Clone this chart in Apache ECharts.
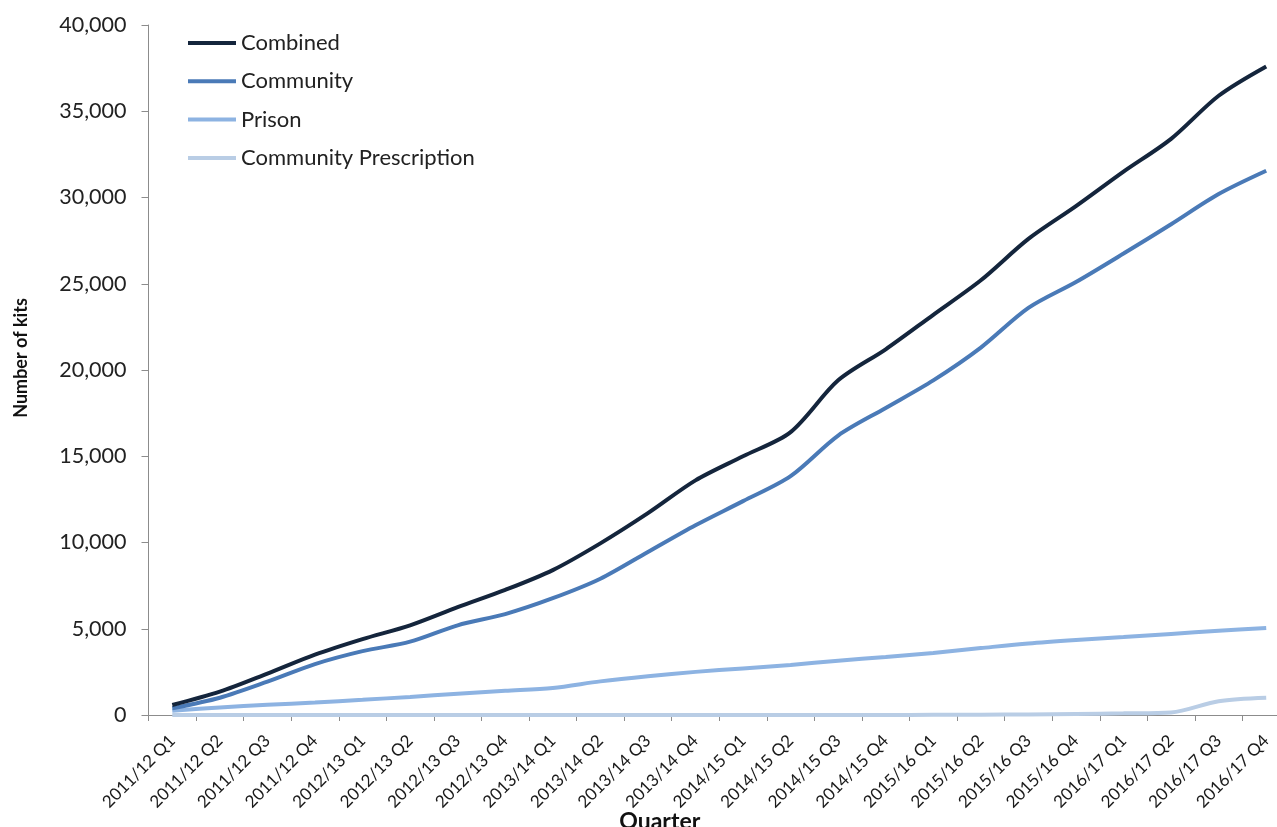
<!DOCTYPE html>
<html>
<head>
<meta charset="utf-8">
<script src="https://cdn.jsdelivr.net/npm/echarts@6/dist/echarts.min.js"></script>
<style>
html,body{margin:0;padding:0;background:#fff;}
#chart{width:1277px;height:827px;}
</style>
</head>
<body>
<div id="chart"></div>
<script>
const categories = ['2011/12 Q1','2011/12 Q2','2011/12 Q3','2011/12 Q4','2012/13 Q1','2012/13 Q2','2012/13 Q3','2012/13 Q4','2013/14 Q1','2013/14 Q2','2013/14 Q3','2013/14 Q4','2014/15 Q1','2014/15 Q2','2014/15 Q3','2014/15 Q4','2015/16 Q1','2015/16 Q2','2015/16 Q3','2015/16 Q4','2016/17 Q1','2016/17 Q2','2016/17 Q3','2016/17 Q4'];
const combined = [580,1350,2400,3500,4400,5200,6250,7250,8400,9950,11700,13600,15000,16400,19400,21200,23200,25200,27600,29500,31500,33400,35900,37600];
const community = [390,1000,1930,2950,3700,4250,5200,5850,6770,7900,9450,11000,12400,13850,16200,17800,19400,21300,23600,25100,26750,28450,30200,31550];
const prison = [250,440,590,720,880,1050,1230,1400,1570,1950,2250,2500,2700,2900,3150,3360,3600,3880,4150,4350,4520,4700,4880,5050];
const communityPrescription = [0,0,0,0,0,0,0,0,0,0,0,0,0,0,0,0,10,20,30,60,100,150,800,1000];
const yTicks = {min:0, max:40000, interval:5000};

const font = 'Lato, "Open Sans", sans-serif';
const chart = echarts.init(document.getElementById('chart'));
function mk(name, data, color){
  return {name, type:'line', data, smooth:0.3, symbol:'none', lineStyle:{width:4, color}, itemStyle:{color}};
}
chart.setOption({
  animation:false,
  grid:{left:148.5, right:-13, top:25, bottom:112, containLabel:false, outerBoundsMode:'none'},
  legend:{
    orient:'vertical', left:188, top:32, padding:0,
    itemWidth:48, itemHeight:18, itemGap:16.3,
    icon:'path://M0,7 L48,7 L48,11 L0,11 Z',
    textStyle:{fontFamily:font, fontSize:22, color:'#222'},
    data:['Combined','Community','Prison','Community Prescription']
  },
  xAxis:{
    type:'category', data:categories, boundaryGap:true,
    axisLine:{lineStyle:{color:'#8c8c8c', width:1}},
    axisTick:{show:true, alignWithLabel:false, length:6, lineStyle:{color:'#8c8c8c'}},
    axisLabel:{rotate:45, interval:0, margin:23, fontFamily:font, fontSize:17, color:'#1a1a1a'},
    name:'Quarter', nameLocation:'middle', nameGap:95, nameMoveOverlap:false,
    nameTextStyle:{fontFamily:font, fontSize:23, fontWeight:'bold', color:'#111', padding:[0,119,0,0]}
  },
  yAxis:{
    type:'value', min:yTicks.min, max:yTicks.max, interval:yTicks.interval,
    splitLine:{show:false},
    axisLine:{show:true, lineStyle:{color:'#8c8c8c', width:1}},
    axisTick:{show:true, length:7, lineStyle:{color:'#8c8c8c'}},
    axisLabel:{margin:22, fontFamily:font, fontSize:21.5, color:'#222',
      formatter:v=>v.toLocaleString('en-US')},
    name:'Number of kits', nameLocation:'middle', nameGap:118, nameRotate:90, nameMoveOverlap:false,
    nameTextStyle:{fontFamily:font, fontSize:18, fontWeight:'bold', color:'#111', padding:[0,0,0,24]}
  },
  series:[
    mk('Community Prescription', communityPrescription, '#b9cde5'),
    mk('Prison', prison, '#8db3e2'),
    mk('Community', community, '#4a7ab7'),
    mk('Combined', combined, '#14253c')
  ]
});
</script>
</body>
</html>
